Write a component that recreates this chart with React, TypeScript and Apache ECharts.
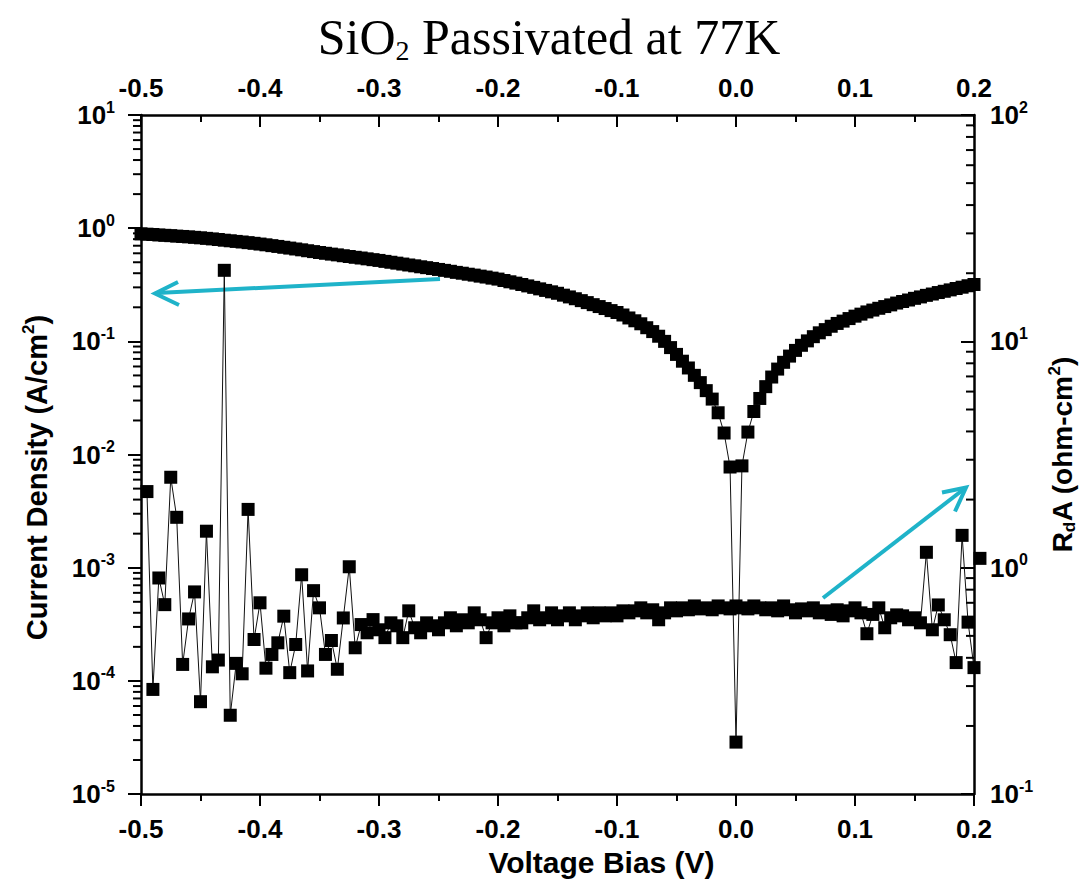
import React, { useEffect, useRef } from 'react';
import * as echarts from 'echarts';

// Voltage sweep (V): first point and step of the measurement grid
const J_V_START = -0.5;
const RDA_V_START = -0.495;
const V_STEP = 0.005;

// Current density (A/cm^2), one value per voltage step from -0.5 V to 0.2 V
const currentDensity = [
  0.891, 0.885, 0.879, 0.871, 0.865, 0.859, 0.851, 0.845, 0.838, 0.830,
  0.822, 0.813, 0.804, 0.794, 0.783, 0.774, 0.764, 0.755, 0.745, 0.735,
  0.724, 0.713, 0.701, 0.690, 0.678, 0.667, 0.655, 0.644, 0.632, 0.621,
  0.610, 0.600, 0.590, 0.581, 0.571, 0.562, 0.553, 0.545, 0.536, 0.527,
  0.519, 0.509, 0.500, 0.491, 0.482, 0.473, 0.465, 0.456, 0.448, 0.440,
  0.432, 0.424, 0.416, 0.407, 0.400, 0.392, 0.385, 0.377, 0.370, 0.362,
  0.355, 0.345, 0.336, 0.327, 0.318, 0.309, 0.300, 0.291, 0.282, 0.274,
  0.266, 0.256, 0.247, 0.238, 0.229, 0.220, 0.211, 0.203, 0.195, 0.187,
  0.180, 0.171, 0.161, 0.152, 0.143, 0.132, 0.122, 0.111, 0.100, 0.0881,
  0.0767, 0.0668, 0.0582, 0.0501, 0.0432, 0.0367, 0.0309, 0.0234, 0.0155, 0.00776,
  0.0000288,
  0.00794, 0.0158, 0.0240, 0.0313, 0.0398, 0.0484, 0.0569, 0.0653, 0.0741, 0.0832,
  0.0923, 0.101, 0.110, 0.119, 0.127, 0.136, 0.144, 0.151, 0.159, 0.167,
  0.174, 0.182, 0.189, 0.196, 0.203, 0.210, 0.218, 0.225, 0.232, 0.240,
  0.247, 0.255, 0.262, 0.270, 0.277, 0.285, 0.293, 0.301, 0.310, 0.318,
];

// RdA (ohm-cm^2), one value per voltage step from -0.495 V to 0.205 V
const rdA = [
  2.17, 0.290, 0.901, 0.687, 2.51, 1.67, 0.374, 0.594, 0.782, 0.256,
  1.45, 0.365, 0.391, 20.6, 0.223, 0.378, 0.340, 1.81, 0.482, 0.700,
  0.360, 0.414, 0.466, 0.611, 0.344, 0.458, 0.931, 0.350, 0.792, 0.665,
  0.414, 0.477, 0.356, 0.600, 1.01, 0.443, 0.561, 0.516, 0.590, 0.532,
  0.491, 0.571, 0.554, 0.491, 0.645, 0.543, 0.516, 0.571, 0.554, 0.532,
  0.571, 0.601, 0.554, 0.589, 0.571, 0.632, 0.589, 0.491, 0.571, 0.601,
  0.554, 0.613, 0.571, 0.571, 0.601, 0.645, 0.589, 0.601, 0.632, 0.589,
  0.613, 0.632, 0.589, 0.613, 0.632, 0.601, 0.632, 0.613, 0.632, 0.613,
  0.645, 0.632, 0.645, 0.665, 0.632, 0.652, 0.589, 0.632, 0.665, 0.645,
  0.665, 0.652, 0.678, 0.658, 0.665, 0.652, 0.678, 0.665, 0.658, 0.678,
  0.665, 0.658, 0.678, 0.665, 0.652, 0.665, 0.645, 0.678, 0.652, 0.632,
  0.658, 0.645, 0.665, 0.632, 0.645, 0.622, 0.652, 0.613, 0.645, 0.665,
  0.632, 0.511, 0.622, 0.665, 0.543, 0.601, 0.619, 0.613, 0.589, 0.601,
  0.571, 1.17, 0.532, 0.685, 0.589, 0.506, 0.381, 1.39, 0.575, 0.362,
  1.10,
];

// Axis ranges
const X_MIN = -0.5;
const X_MAX = 0.2;
const X_INTERVAL = 0.1;
const J_MIN = 1e-5;
const J_MAX = 10;
const R_MIN = 0.1;
const R_MAX = 100;
const MINOR_MULTIPLIERS = [2, 3, 4, 5, 6, 7, 8, 9];

const X_NAME = 'Voltage Bias (V)';

const SANS = "'Liberation Sans', Arial, Helvetica, sans-serif";
const SERIF = "'Liberation Serif', 'Times New Roman', serif";
const ARROW = '#1FB3C9';

function logMinors(min: number, max: number): number[] {
  const out: number[] = [];
  const e0 = Math.round(Math.log10(min));
  const e1 = Math.round(Math.log10(max));
  for (let e = e0; e < e1; e++) {
    for (const m of MINOR_MULTIPLIERS) out.push(m * Math.pow(10, e));
  }
  return out;
}

const richLabel = {
  b: { fontSize: 26, fontWeight: 'bold', fontFamily: SANS, color: '#000' },
  s: { fontSize: 16, fontWeight: 'bold', fontFamily: SANS, color: '#000', padding: [0, 0, 16, 0] },
};
const nameRich = (size: number) => ({
  b: { fontSize: size, fontWeight: 'bold', fontFamily: SANS, color: '#000' },
  sup: { fontSize: Math.round(size * 0.6), fontWeight: 'bold', fontFamily: SANS, color: '#000', padding: [0, 0, 16, 0] },
  sub: { fontSize: Math.round(size * 0.6), fontWeight: 'bold', fontFamily: SANS, color: '#000', padding: [14, 0, 0, 0] },
});

const powLabel = (v: number) => `{b|10}{s|${Math.round(Math.log10(v))}}`;

export default function App() {
  const ref = useRef<HTMLDivElement>(null);
  useEffect(() => {
    document.body.style.margin = '0';
    if (!ref.current) return;
    const chart = echarts.init(ref.current, null, { renderer: 'svg' });

    const jData = currentDensity.map((j, i) => [+(J_V_START + i * V_STEP).toFixed(3), j]);
    const rData = rdA.map((r, i) => [+(RDA_V_START + i * V_STEP).toFixed(3), r]);

    const tickLine = { color: '#000', width: 2 };
    const axisLine = { show: true, onZero: false, lineStyle: { color: '#000', width: 2.5 } };
    const xLabel = {
      fontSize: 26, fontWeight: 'bold', fontFamily: SANS, color: '#000',
      formatter: (v: number) => v.toFixed(1),
    };

    const minorTickSeries = (yIndex: number, xAt: number, values: number[], dir: number) => ({
      type: 'custom',
      xAxisIndex: 0,
      yAxisIndex: yIndex,
      silent: true,
      clip: false,
      z: 10,
      data: values.map((v) => [xAt, v]),
      renderItem: (_p: any, api: any) => {
        const p = api.coord([api.value(0), api.value(1)]);
        return {
          type: 'line',
          shape: { x1: p[0], y1: p[1], x2: p[0] + dir * 8, y2: p[1] },
          style: { stroke: '#000', lineWidth: 2 },
        };
      },
    });

    chart.setOption({
      animation: false,
      backgroundColor: '#fff',
      grid: { left: 141, right: 110, top: 115, bottom: 85, containLabel: false },
      xAxis: [
        {
          type: 'value', position: 'bottom', min: X_MIN, max: X_MAX, interval: X_INTERVAL,
          axisLine, axisTick: { show: true, inside: false, length: 12, lineStyle: tickLine },
          minorTick: { show: true, splitNumber: 2, length: 7, lineStyle: tickLine },
          splitLine: { show: false }, minorSplitLine: { show: false },
          axisLabel: { ...xLabel, margin: 22 },
          name: X_NAME, nameLocation: 'middle', nameGap: 48,
          nameTextStyle: { fontSize: 30, fontWeight: 'bold', fontFamily: SANS, color: '#000', padding: [0, 0, 0, 88] },
        },
        {
          type: 'value', position: 'top', min: X_MIN, max: X_MAX, interval: X_INTERVAL,
          axisLine, axisTick: { show: true, inside: true, length: 12, lineStyle: tickLine },
          minorTick: { show: true, splitNumber: 2, length: 7, lineStyle: tickLine },
          splitLine: { show: false }, minorSplitLine: { show: false },
          axisLabel: { ...xLabel, margin: 14 },
        },
      ],
      yAxis: [
        {
          type: 'log', logBase: 10, position: 'left', min: J_MIN, max: J_MAX, splitNumber: 6,
          axisLine, axisTick: { show: true, inside: false, length: 13, lineStyle: tickLine },
          minorTick: { show: false }, splitLine: { show: false },
          axisLabel: { margin: 26, formatter: powLabel, rich: richLabel },
          name: '{b|Current Density (A/cm}{sup|2}{b|)}', nameLocation: 'middle', nameRotate: 90, nameGap: 88,
          nameTextStyle: { rich: nameRich(29), padding: [0, 46, 0, 0] },
        },
        {
          type: 'log', logBase: 10, position: 'right', min: R_MIN, max: R_MAX, splitNumber: 3,
          axisLine, axisTick: { show: true, inside: true, length: 13, lineStyle: tickLine },
          minorTick: { show: false }, splitLine: { show: false },
          axisLabel: { margin: 16, formatter: powLabel, rich: richLabel },
          name: '{b|R}{sub|d}{b|A (ohm-cm}{sup|2}{b|)}', nameLocation: 'middle', nameRotate: 90, nameGap: 72,
          nameTextStyle: { rich: nameRich(28) },
        },
      ],
      series: [
        {
          name: 'Current Density', type: 'line', xAxisIndex: 0, yAxisIndex: 0, data: jData,
          symbol: 'rect', symbolSize: 13, showSymbol: true, clip: false,
          itemStyle: { color: '#000' }, lineStyle: { color: '#111', width: 1 },
        },
        {
          name: 'RdA', type: 'line', xAxisIndex: 0, yAxisIndex: 1, data: rData,
          symbol: 'rect', symbolSize: 13, showSymbol: true, clip: false,
          itemStyle: { color: '#000' }, lineStyle: { color: '#111', width: 1 },
        },
        minorTickSeries(0, X_MIN, logMinors(J_MIN, J_MAX), -1),
        minorTickSeries(1, X_MAX, logMinors(R_MIN, R_MAX), -1),
      ],
      graphic: [
        {
          type: 'text', x: 549, y: 37,
          style: {
            text: '{a|SiO}{s|2}{a| Passivated at 77K}',
            align: 'center', verticalAlign: 'middle',
            rich: {
              a: { fontFamily: SERIF, fontSize: 50, fontWeight: 'normal', fill: '#000' },
              s: { fontFamily: SERIF, fontSize: 28, fontWeight: 'normal', fill: '#000', padding: [26, 0, 0, 0] },
            },
          },
        },
        { type: 'line', shape: { x1: 440, y1: 279, x2: 157, y2: 293 }, style: { stroke: ARROW, lineWidth: 4 } },
        { type: 'polyline', shape: { points: [[178, 282], [155, 293.5], [179, 305]] }, style: { stroke: ARROW, lineWidth: 4, fill: null } },
        { type: 'line', shape: { x1: 823, y1: 598, x2: 964, y2: 489 }, style: { stroke: ARROW, lineWidth: 4 } },
        { type: 'polyline', shape: { points: [[942, 492.5], [966, 487.5], [955, 511.5]] }, style: { stroke: ARROW, lineWidth: 4, fill: null } },
      ],
    });
    return () => chart.dispose();
  }, []);
  return <div ref={ref} style={{ width: 1086, height: 882 }} />;
}
